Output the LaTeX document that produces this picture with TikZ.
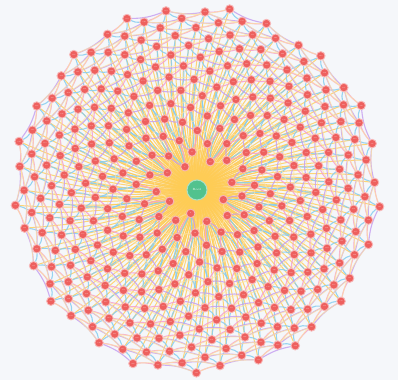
\documentclass[tikz,border=0pt]{standalone}
\usepackage{xcolor}
\usepackage{tikz}
\definecolor{sfondo}{HTML}{F5F7FA}
\definecolor{rosso}{HTML}{EE605E}
\definecolor{verde}{HTML}{52C28E}
\definecolor{giallo}{HTML}{FFCC55}
\definecolor{azzurro}{HTML}{86CDF0}
\definecolor{rosa}{HTML}{F4A0CF}
\definecolor{viola}{HTML}{C49CF0}
\pgfdeclarelayer{sotto}
\pgfsetlayers{sotto,main}
\tikzset{
  foglia/.style={circle, fill=rosso, draw=rosso!45!white, line width=0.9pt,
    minimum size=8.5pt, inner sep=0pt, text=white!85!rosso,
    font=\fontsize{1.6}{2}\selectfont},
  radice/.style={circle, fill=verde, draw=verde!50!white, line width=1pt,
    minimum size=20pt, inner sep=0pt, text=white,
    font=\fontsize{3}{3}\selectfont},
  raggio/.style={giallo, line width=1pt, opacity=0.8},
  lato giallo/.style={giallo!55!white, line width=1pt, opacity=0.7},
  lato blu/.style={azzurro, line width=1.1pt, opacity=0.85},
  lato rosa/.style={rosa, line width=1.1pt, opacity=0.85},
  lato viola/.style={viola, line width=1.1pt, opacity=0.8}
}

\begin{document}
\begin{tikzpicture}[x=1pt, y=-1pt]
    % sfondo
    \begin{pgfonlayer}{sotto}
        \fill[sfondo] (0,0) rectangle (398,380);
    \end{pgfonlayer}
    \useasboundingbox (0,0) rectangle (398,380);
    % nodo centrale
    \node[radice] (root) at (197,190) {Root};
    % foglie a girasole
    \foreach \i in {6,...,350} {
        \pgfmathsetmacro\r{9.9*sqrt(\i)}
        \pgfmathsetmacro\a{10*mod(\i*13.7508,36)}
        \node[foglia] (n\i) at ({197+\r*cos(\a)},{190+\r*sin(\a)}) {\i};
    }
    % lati
    \begin{pgfonlayer}{sotto}
        \foreach \i in {6,...,350} {
            \draw[raggio] (root) to[bend left=8] (n\i);
        }
        \foreach \i in {6,...,350} {
            \pgfmathtruncatemacro\h{\i+8}
            \pgfmathtruncatemacro\j{\i+13}
            \pgfmathtruncatemacro\k{\i+21}
            \pgfmathtruncatemacro\m{\i+34}
            \pgfmathtruncatemacro\p{\i+55}
            \ifnum\h<351 \draw[lato giallo] (n\i) to[bend right=12] (n\h); \fi
            \ifnum\j<351 \draw[lato viola] (n\i) to[bend left=10] (n\j); \fi
            \ifnum\k<351 \draw[lato rosa] (n\i) to[bend right=8] (n\k); \fi
            \ifnum\m<351 \draw[lato blu] (n\i) to[bend left=14] (n\m); \fi
            \ifnum\p<351 \draw[lato blu] (n\i) to[bend right=10] (n\p); \fi
        }
    \end{pgfonlayer}
\end{tikzpicture}
\end{document}
